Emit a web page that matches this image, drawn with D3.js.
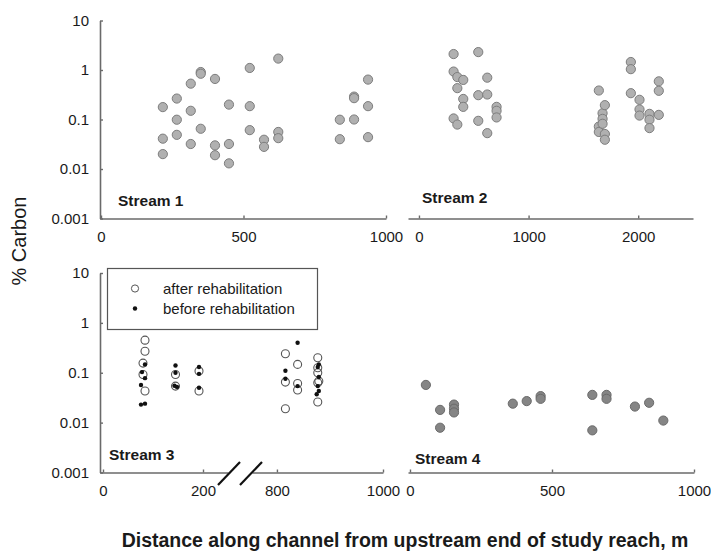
<!DOCTYPE html>
<html>
<head>
<meta charset="utf-8">
<script src="https://cdn.jsdelivr.net/npm/d3@7"></script>
<style>
  body { margin: 0; background: #fff; }
  svg { font-family: "Liberation Sans", Arial, sans-serif; }
</style>
</head>
<body>
<div id="chart"></div>
<script>
// Stream 1
const s1Dist = [217, 217, 217, 266, 266, 266, 315, 315, 315, 350, 350, 350, 400, 400, 400,
    449, 449, 449, 522, 522, 522, 572, 572, 622, 622, 622, 838, 838, 888, 888, 888, 937, 937, 937];
const s1Carbon = [0.178, 0.041, 0.02, 0.265, 0.099, 0.049, 0.53, 0.15, 0.032, 0.91, 0.84, 0.065, 0.66, 0.030, 0.019,
    0.20, 0.032, 0.013, 1.1, 0.186, 0.061, 0.039, 0.028, 1.7, 0.056, 0.042, 0.099, 0.040, 0.29, 0.27, 0.10, 0.64, 0.186, 0.044];

// Stream 2
const s2Dist = [316, 316, 316, 350, 350, 350, 404, 404, 404, 541, 541, 541, 623, 623, 623, 708, 708, 708,
    1641, 1641, 1641, 1675, 1675, 1675, 1696, 1696, 1696, 1933, 1933, 1933, 2012, 2012, 2012, 2103, 2103, 2103, 2188, 2188, 2188];
const s2Carbon = [2.1, 0.93, 0.105, 0.72, 0.43, 0.079, 0.63, 0.26, 0.18, 2.3, 0.31, 0.094, 0.70, 0.32, 0.053, 0.18, 0.15, 0.11,
    0.385, 0.072, 0.056, 0.134, 0.103, 0.082, 0.195, 0.051, 0.039, 1.45, 1.04, 0.34, 0.25, 0.16, 0.12, 0.13, 0.099, 0.067, 0.59, 0.38, 0.124];

// Stream 3 (broken axis)
const s3AfterDist = [84, 84, 80, 80, 84, 145, 145, 192, 192, 816, 816, 816, 839, 839, 839, 877, 877, 877, 879, 877, 877];
const s3AfterCarbon = [0.45, 0.27, 0.156, 0.092, 0.043, 0.092, 0.054, 0.108, 0.043, 0.24, 0.065, 0.019, 0.147, 0.061, 0.045,
    0.2, 0.126, 0.1, 0.068, 0.063, 0.026];
const s3BeforeDist = [84, 78, 84, 76, 84, 76, 145, 145, 143, 148, 192, 192, 192, 816, 816, 839, 839, 879, 877, 879, 877, 875, 879];
const s3BeforeCarbon = [0.147, 0.103, 0.078, 0.057, 0.024, 0.023, 0.14, 0.1, 0.055, 0.052, 0.13, 0.095, 0.05, 0.11, 0.076,
    0.40, 0.054, 0.147, 0.13, 0.082, 0.054, 0.037, 0.043];

// Stream 4
const s4Dist = [56, 106, 106, 155, 155, 155, 362, 411, 460, 460, 642, 642, 692, 692, 792, 842, 892];
const s4Carbon = [0.057, 0.018, 0.0079, 0.023, 0.019, 0.016, 0.024, 0.027, 0.034, 0.030, 0.036, 0.007, 0.036, 0.030, 0.021, 0.025, 0.011];

const yTicks = [0.001, 0.01, 0.1, 1, 10];
const yTickLabels = ["0.001", "0.01", "0.1", "1", "10"];

const width = 711, height = 555;
const svg = d3.select("#chart").append("svg")
    .attr("width", width)
    .attr("height", height);

const axisColor = "#6a6a6a";
const textColor = "#1a1a1a";

// Scales
const yTop = d3.scaleLog().domain([0.001, 10]).range([218.5, 20.5]);
const yBot = d3.scaleLog().domain([0.001, 10]).range([472.5, 273]);

const x1 = d3.scaleLinear().domain([-3.5, 1000]).range([100, 386]);
const x2 = d3.scaleLinear().domain([-100, 2500]).range([408, 693]);
const x3a = d3.scaleLinear().domain([-6, 250]).range([100, 228]);
const x3b = d3.scaleLinear().domain([753, 1000]).range([252, 383]);
const x3 = d => d < 500 ? x3a(d) : x3b(d);
const x4 = d3.scaleLinear().domain([-7, 1000]).range([408, 694]);

function styleAxis(g) {
    g.select(".domain").attr("stroke", axisColor).attr("stroke-width", 1.6);
    g.selectAll(".tick line").attr("stroke", axisColor).attr("stroke-width", 1.4);
    g.selectAll(".tick text")
        .attr("fill", textColor)
        .style("font-size", "15px");
}

function xAxis(scale, ticks, yPos) {
    const g = svg.append("g")
        .attr("transform", `translate(0,${yPos})`)
        .call(d3.axisBottom(scale)
            .tickValues(ticks)
            .tickFormat(d3.format("d"))
            .tickSizeInner(-3)
            .tickSizeOuter(0)
            .tickPadding(13));
    styleAxis(g);
}

function yAxis(scale) {
    const g = svg.append("g")
        .attr("transform", "translate(100,0)")
        .call(d3.axisLeft(scale)
            .tickValues(yTicks)
            .tickFormat((d, i) => yTickLabels[i])
            .tickSizeInner(-3)
            .tickSizeOuter(0)
            .tickPadding(11));
    styleAxis(g);
}

// Axes
yAxis(yTop);
yAxis(yBot);
xAxis(x1, [0, 500, 1000], 218.5);
xAxis(x2, [0, 1000, 2000], 218.5);
xAxis(x3a, [0, 200], 472.5);
xAxis(x3b, [800, 1000], 472.5);
xAxis(x4, [0, 500, 1000], 472.5);

// Axis break marks for stream 3
svg.selectAll(".break")
    .data([218, 240])
    .enter()
    .append("line")
    .attr("x1", d => d)
    .attr("y1", 485)
    .attr("x2", d => d + 22)
    .attr("y2", 462)
    .attr("stroke", "#111")
    .attr("stroke-width", 2.2);

// Grey circles
function greyDots(xs, ys, xScale, yScale, fill, stroke) {
    svg.append("g")
        .selectAll("circle")
        .data(xs.map((d, i) => ({ x: d, y: ys[i] })))
        .enter()
        .append("circle")
        .attr("cx", d => xScale(d.x))
        .attr("cy", d => yScale(d.y))
        .attr("r", 4.6)
        .attr("fill", fill)
        .attr("stroke", stroke)
        .attr("stroke-width", 1);
}

greyDots(s1Dist, s1Carbon, x1, yTop, "#b0b0b0", "#7d7d7d");
greyDots(s2Dist, s2Carbon, x2, yTop, "#b0b0b0", "#7d7d7d");
greyDots(s4Dist, s4Carbon, x4, yBot, "#858585", "#6a6a6a");

// Stream 3: after (open) and before (filled)
svg.append("g")
    .selectAll("circle")
    .data(s3AfterDist.map((d, i) => ({ x: d, y: s3AfterCarbon[i] })))
    .enter()
    .append("circle")
    .attr("cx", d => x3(d.x))
    .attr("cy", d => yBot(d.y))
    .attr("r", 4)
    .attr("fill", "none")
    .attr("stroke", "#555")
    .attr("stroke-width", 1.1);

svg.append("g")
    .selectAll("circle")
    .data(s3BeforeDist.map((d, i) => ({ x: d, y: s3BeforeCarbon[i] })))
    .enter()
    .append("circle")
    .attr("cx", d => x3(d.x))
    .attr("cy", d => yBot(d.y))
    .attr("r", 2.2)
    .attr("fill", "#111");

// Legend
const legend = svg.append("g");
legend.append("rect")
    .attr("x", 107.5).attr("y", 268.5)
    .attr("width", 210).attr("height", 61)
    .attr("fill", "#fff")
    .attr("stroke", "#555")
    .attr("stroke-width", 1.2);
legend.append("circle")
    .attr("cx", 135).attr("cy", 288.5).attr("r", 3.6)
    .attr("fill", "none").attr("stroke", "#555").attr("stroke-width", 1);
legend.append("circle")
    .attr("cx", 135).attr("cy", 308.5).attr("r", 2.2)
    .attr("fill", "#111");
legend.append("text")
    .attr("x", 163).attr("y", 294)
    .attr("fill", textColor)
    .style("font-size", "15px")
    .text("after rehabilitation");
legend.append("text")
    .attr("x", 163).attr("y", 314)
    .attr("fill", textColor)
    .style("font-size", "15px")
    .text("before rehabilitation");

// Panel labels
const panelLabels = [
    { text: "Stream 1", x: 118, y: 206 },
    { text: "Stream 2", x: 422, y: 203 },
    { text: "Stream 3", x: 109, y: 460 },
    { text: "Stream 4", x: 415, y: 464 }
];
svg.selectAll(".panel-label")
    .data(panelLabels)
    .enter()
    .append("text")
    .attr("x", d => d.x)
    .attr("y", d => d.y)
    .attr("fill", textColor)
    .style("font-size", "15.5px")
    .style("font-weight", "bold")
    .text(d => d.text);

// Axis titles
svg.append("text")
    .attr("transform", "translate(26,241) rotate(-90)")
    .attr("text-anchor", "middle")
    .attr("fill", textColor)
    .style("font-size", "20px")
    .text("% Carbon");

svg.append("text")
    .attr("x", 405)
    .attr("y", 547)
    .attr("text-anchor", "middle")
    .attr("fill", textColor)
    .style("font-size", "19.5px")
    .style("font-weight", "bold")
    .text("Distance along channel from upstream end of study reach, m");
</script>
</body>
</html>
